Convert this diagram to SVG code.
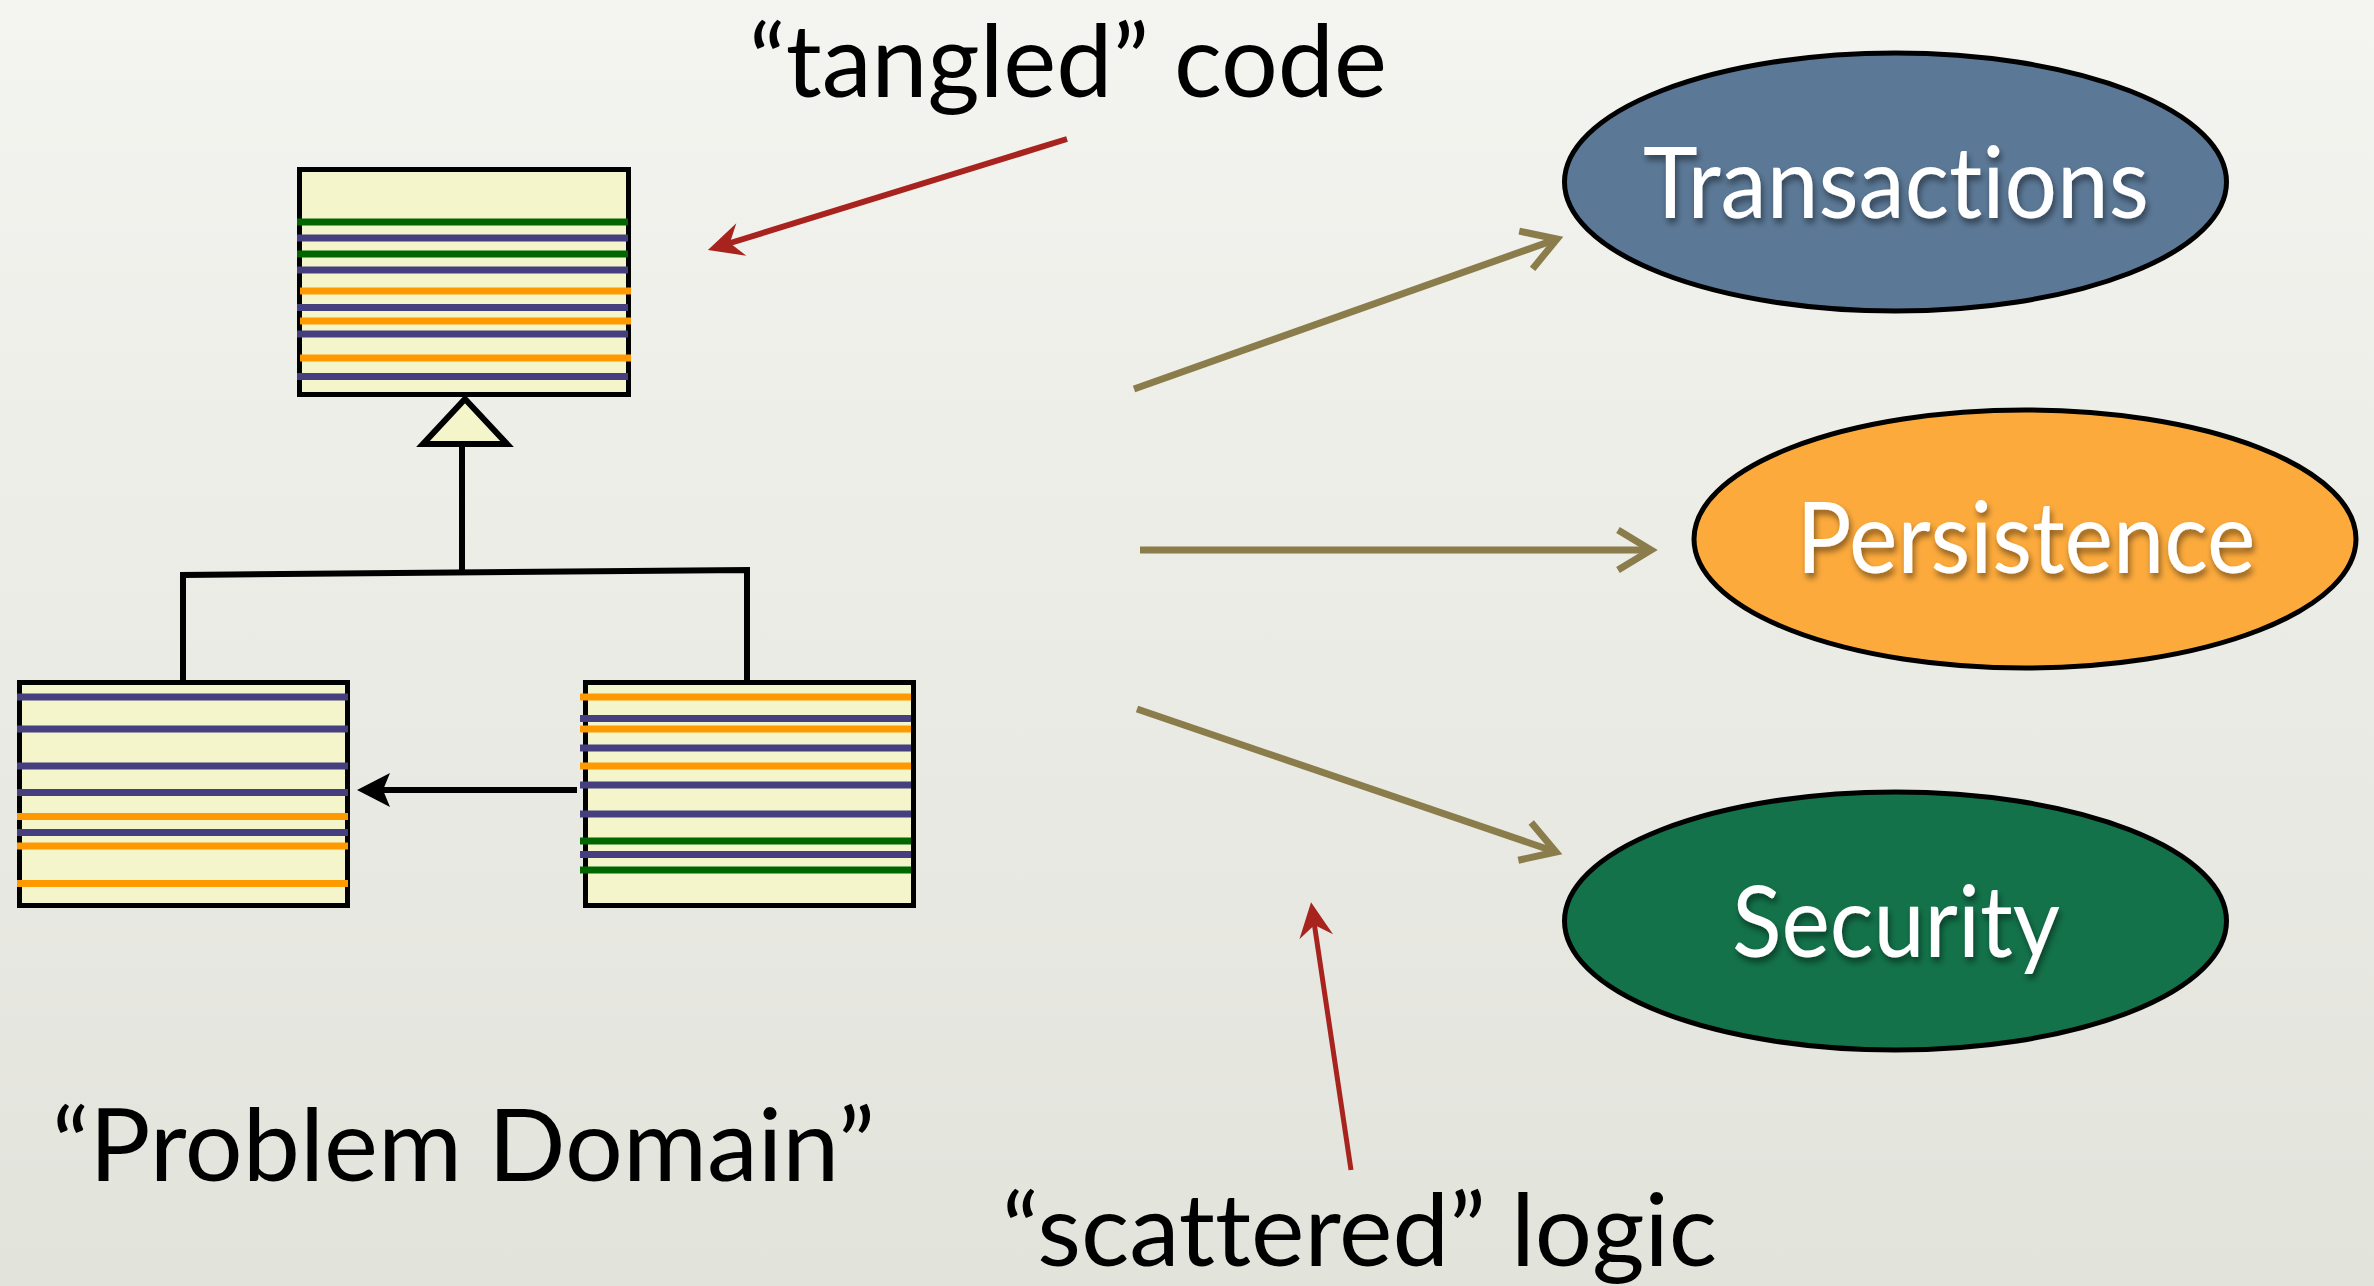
<svg xmlns="http://www.w3.org/2000/svg" width="2374" height="1286" viewBox="0 0 2374 1286">
  <defs>
    <linearGradient id="bg" x1="0" y1="0" x2="0" y2="1">
      <stop offset="0" stop-color="#f4f4f0"/>
      <stop offset="1" stop-color="#e2e3db"/>
    </linearGradient>
    <filter id="shadow" x="-10%" y="-20%" width="120%" height="150%">
      <feDropShadow dx="2" dy="5" stdDeviation="3" flood-color="#000" flood-opacity="0.45"/>
    </filter>
    <marker id="olive" markerUnits="userSpaceOnUse" markerWidth="80" markerHeight="80" refX="0" refY="0" orient="auto" overflow="visible">
      <path d="M-33,-20 L0,0 L-33,20" fill="none" stroke="#8b7d4b" stroke-width="7" stroke-linejoin="miter" stroke-miterlimit="10"/>
    </marker>
    <marker id="redhead" markerUnits="userSpaceOnUse" markerWidth="80" markerHeight="80" refX="0" refY="0" orient="auto" overflow="visible">
      <path d="M20,0 L-15,-17 L-3,0 L-15,17 Z" fill="#a8231e"/>
    </marker>
    <marker id="blackhead" markerUnits="userSpaceOnUse" markerWidth="80" markerHeight="80" refX="0" refY="0" orient="auto" overflow="visible">
      <path d="M26,0 L-7,-17 L0,0 L-7,17 Z" fill="#000"/>
    </marker>
  </defs>
  <style>
    .label { font-family: "Lato", "Liberation Sans", sans-serif; font-size: 100px; fill: #000; font-variant-ligatures: none; }
    .nodetext { font-family: "Lato", "Liberation Sans", sans-serif; font-size: 98px; fill: #fff; text-anchor: middle; filter: url(#shadow); font-variant-ligatures: none; }
    .cls { fill: #f5f5cc; stroke: #000; stroke-width: 5; }
    .ln { stroke-width: 7; fill: none; }
    .p { stroke: #453f80; }
    .g { stroke: #006600; }
    .o { stroke: #ff9900; }
    .tree { stroke: #000; stroke-width: 6; fill: none; }
    .olive { stroke: #8b7d4b; stroke-width: 7; fill: none; marker-end: url(#olive); }
    .red { stroke: #a8231e; fill: none; marker-end: url(#redhead); }
    .node { stroke: #000; stroke-width: 5; }
  </style>

  <rect x="0" y="0" width="2374" height="1286" fill="url(#bg)"/>

  <!-- Class boxes -->
  <g id="class-top">
    <rect class="cls" x="299.5" y="169.5" width="329" height="225"/>
    <line class="ln g" x1="297" y1="222" x2="628" y2="222"/>
    <line class="ln p" x1="297" y1="238" x2="628" y2="238"/>
    <line class="ln g" x1="297" y1="254" x2="628" y2="254"/>
    <line class="ln p" x1="297" y1="270" x2="628" y2="270"/>
    <line class="ln o" x1="300" y1="291" x2="631" y2="291"/>
    <line class="ln p" x1="297" y1="307.5" x2="628" y2="307.5"/>
    <line class="ln o" x1="300" y1="321" x2="631" y2="321"/>
    <line class="ln p" x1="297" y1="334" x2="628" y2="334"/>
    <line class="ln o" x1="300" y1="358" x2="631" y2="358"/>
    <line class="ln p" x1="297" y1="376.5" x2="628" y2="376.5"/>
  </g>

  <g id="class-left">
    <rect class="cls" x="19.5" y="682.5" width="328" height="223"/>
    <line class="ln p" x1="17" y1="697" x2="348" y2="697"/>
    <line class="ln p" x1="17" y1="729" x2="348" y2="729"/>
    <line class="ln p" x1="17" y1="766" x2="348" y2="766"/>
    <line class="ln p" x1="17" y1="792.5" x2="348" y2="792.5"/>
    <line class="ln o" x1="17" y1="816.5" x2="348" y2="816.5"/>
    <line class="ln p" x1="17" y1="832.5" x2="348" y2="832.5"/>
    <line class="ln o" x1="17" y1="846" x2="348" y2="846"/>
    <line class="ln o" x1="17" y1="883.5" x2="348" y2="883.5"/>
  </g>

  <g id="class-right">
    <rect class="cls" x="585.5" y="682.5" width="328" height="223"/>
    <line class="ln o" x1="580" y1="697" x2="911" y2="697"/>
    <line class="ln p" x1="580" y1="718.5" x2="911" y2="718.5"/>
    <line class="ln o" x1="580" y1="729" x2="911" y2="729"/>
    <line class="ln p" x1="580" y1="748" x2="911" y2="748"/>
    <line class="ln o" x1="580" y1="766" x2="911" y2="766"/>
    <line class="ln p" x1="580" y1="785" x2="911" y2="785"/>
    <line class="ln p" x1="580" y1="814" x2="911" y2="814"/>
    <line class="ln g" x1="580" y1="841" x2="911" y2="841"/>
    <line class="ln p" x1="580" y1="854.5" x2="911" y2="854.5"/>
    <line class="ln g" x1="580" y1="870" x2="911" y2="870"/>
  </g>

  <!-- Concern ellipses -->
  <g id="node-transactions">
    <ellipse class="node" cx="1895.5" cy="182" rx="331" ry="129" fill="#5b7896"/>
    <text class="nodetext" x="1896" y="218" textLength="506" lengthAdjust="spacingAndGlyphs">Transactions</text>
  </g>
  <g id="node-persistence">
    <ellipse class="node" cx="2025" cy="539" rx="331" ry="129" fill="#fcaa3c"/>
    <text class="nodetext" x="2026" y="573" textLength="459" lengthAdjust="spacingAndGlyphs">Persistence</text>
  </g>
  <g id="node-security">
    <ellipse class="node" cx="1895.5" cy="921" rx="331" ry="129" fill="#13724a"/>
    <text class="nodetext" x="1896" y="957" textLength="328" lengthAdjust="spacingAndGlyphs">Security</text>
  </g>

  <!-- Labels -->
  <g id="label-tangled">
    <text class="label" x="749" y="97" font-size="92" textLength="638" lengthAdjust="spacingAndGlyphs">“tangled” code</text>
  </g>
  <g id="label-problem">
    <text class="label" x="52" y="1181" font-size="102" textLength="823" lengthAdjust="spacingAndGlyphs">“Problem Domain”</text>
  </g>
  <g id="label-scattered">
    <text class="label" x="1002" y="1266" textLength="715" lengthAdjust="spacingAndGlyphs">“scattered” logic</text>
  </g>

  <!-- Connectors -->
  <g id="connectors">
    <!-- inheritance tree -->
    <path class="tree" d="M465,399 L507,444 L423,444 Z" style="fill:#f5f5cc"/>
    <line class="tree" x1="462" y1="446" x2="462" y2="573"/>
    <path class="tree" d="M183,680 L183,575 L747,570 L747,680"/>
    <!-- association arrow -->
    <line stroke="#000" stroke-width="6" x1="577" y1="790" x2="383" y2="790" marker-end="url(#blackhead)"/>
    <!-- olive arrows -->
    <line class="olive" x1="1134" y1="389" x2="1557" y2="239"/>
    <line class="olive" x1="1140" y1="550" x2="1651" y2="550"/>
    <line class="olive" x1="1137" y1="709" x2="1556" y2="852"/>
    <!-- red annotation arrows -->
    <line class="red" stroke-width="6" x1="1067" y1="139" x2="727" y2="244"/>
    <line class="red" stroke-width="5" x1="1351" y1="1170" x2="1314" y2="922"/>
  </g>
</svg>
